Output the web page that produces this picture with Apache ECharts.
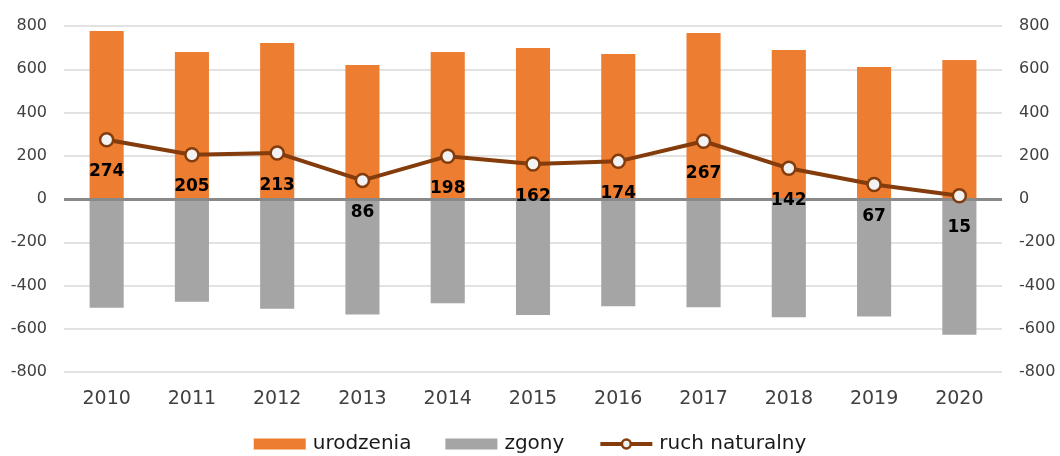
<!DOCTYPE html>
<html>
<head>
<meta charset="utf-8">
<script src="https://cdn.jsdelivr.net/npm/echarts@6/dist/echarts.min.js"></script>
<style>
  html, body { margin: 0; padding: 0; background: #fff; }
  #chart { width: 1060px; height: 456px; }
</style>
</head>
<body>
<div id="chart"></div>
<script>
// dane
const years = ['2010', '2011', '2012', '2013', '2014', '2015', '2016', '2017', '2018', '2019', '2020'];
const urodzenia = [777, 680, 721, 620, 680, 698, 670, 768, 689, 610, 643];
const zgony = [-503, -475, -508, -534, -482, -536, -496, -501, -547, -543, -628];
const ruch = [274, 205, 213, 86, 198, 162, 174, 267, 142, 67, 15];

const font = 'DejaVu Sans';
const lineColor = '#843c0c';
const chart = echarts.init(document.getElementById('chart'));

const yAxisBase = {
  type: 'value',
  min: -800, max: 800, interval: 200,
  axisLine: { show: false },
  axisTick: { show: false },
  axisLabel: { color: '#404040', fontSize: 16, fontFamily: font, margin: 17 },
  splitLine: { lineStyle: { color: '#d9d9d9', width: 1.5 } }
};

chart.setOption({
  animation: false,
  grid: { left: 64, right: 58, top: 26, bottom: 84 },
  legend: {
    top: 429,
    left: 'center',
    itemWidth: 52,
    itemHeight: 11,
    itemGap: 34,
    textStyle: { color: '#1a1a1a', fontSize: 20, fontFamily: font, padding: [0, 0, 0, 2] },
    data: [
      { name: 'urodzenia', icon: 'rect' },
      { name: 'zgony', icon: 'rect' },
      {
        name: 'ruch naturalny',
        lineStyle: { color: lineColor, width: 4 },
        itemStyle: { color: '#f2f2f2', borderColor: lineColor, borderWidth: 2.5 }
      }
    ]
  },
  xAxis: {
    type: 'category',
    data: years,
    axisLine: { show: false, onZero: false },
    axisTick: { show: false },
    axisLabel: { color: '#404040', fontSize: 19, fontFamily: font, margin: 18 }
  },
  yAxis: [
    { ...yAxisBase, position: 'left' },
    { ...yAxisBase, position: 'right', splitLine: { show: false } }
  ],
  series: [
    {
      name: 'urodzenia',
      type: 'bar',
      barWidth: '40%',
      barGap: '-100%',
      itemStyle: { color: '#ed7d31' },
      data: urodzenia
    },
    {
      name: 'zgony',
      type: 'bar',
      barWidth: '40%',
      itemStyle: { color: '#a5a5a5' },
      data: zgony,
      markLine: {
        silent: true,
        symbol: 'none',
        label: { show: false },
        lineStyle: { color: '#898989', width: 3, type: 'solid' },
        data: [{ yAxis: 0 }]
      }
    },
    {
      name: 'ruch naturalny',
      type: 'line',
      symbol: 'circle',
      symbolSize: 13,
      z: 5,
      lineStyle: { color: lineColor, width: 4 },
      itemStyle: { color: '#f2f2f2', borderColor: lineColor, borderWidth: 2.5 },
      label: {
        show: true,
        position: 'bottom',
        distance: 16,
        color: '#000',
        fontSize: 17,
        fontWeight: 'bold',
        fontFamily: font
      },
      data: ruch
    }
  ]
});
</script>
</body>
</html>
